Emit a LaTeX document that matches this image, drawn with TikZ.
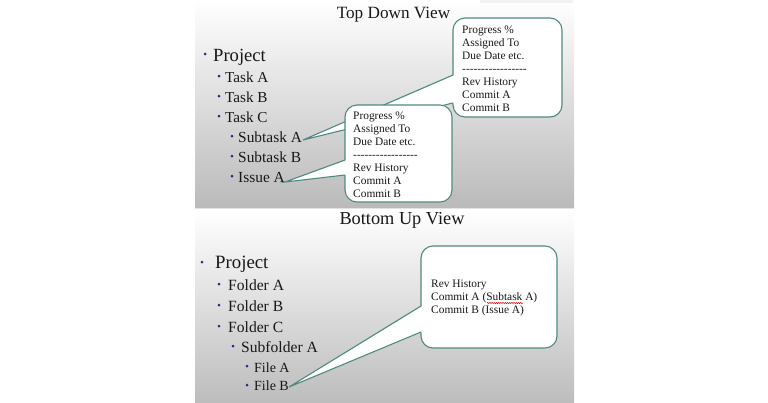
\documentclass[tikz,border=0pt]{standalone}
\usepackage{fontspec}
\setmainfont{Liberation Serif}
\usetikzlibrary{decorations.pathmorphing}
\definecolor{edgeC}{HTML}{4E8A80}
\definecolor{bulC}{HTML}{3A1E8C}
\definecolor{txtC}{HTML}{181818}
\newcommand\dashrow{-{}-{}-{}-{}-{}-{}-{}-{}-{}-{}-{}-{}-{}-{}-{}-{}-}
\newcommand\mycallout[8]{%
  \draw[callout] (#1,#2) rectangle (#3,#4);
  \fill[white] (#7,#8) -- (#1+1.3,#5) -- (#1+1.3,#6) -- cycle;
  \draw[ptr] (#1,#5) -- (#7,#8) -- (#1,#6);
}
\begin{document}
\begin{tikzpicture}[x=1pt,y=-1pt,
  item/.style={anchor=base west, text=txtC, inner sep=0pt},
  ttl/.style={anchor=base, text=txtC, inner sep=0pt},
  ctext/.style={anchor=base west, text=txtC, inner sep=0pt, font=\fontsize{11.4}{13}\selectfont},
  bul/.style={fill=bulC},
  callout/.style={draw=edgeC, fill=white, line width=1.1pt, rounded corners=12pt},
  ptr/.style={draw=edgeC, line width=1.1pt, line join=miter}]
\useasboundingbox (0,0) rectangle (768,402);
% panels
\shade[top color=white, bottom color=gray!54] (195,0) rectangle (574,208);
\fill[gray!10] (480,0) rectangle (573,2.5);
\draw[gray!22, line width=0.8pt] (195,208.8) -- (574,208.8);
\shade[top color=white, bottom color=gray!52] (195,210) rectangle (574,402);
% titles
\node[ttl, font=\fontsize{17.2}{20}\selectfont] (t1) at (393.5,18.3) {Top Down View};
\node[ttl, font=\fontsize{18.3}{20}\selectfont] (t2) at (402,224) {Bottom Up View};
% top list
\node[item, font=\fontsize{18.6}{20}\selectfont] (p1) at (213,61.5) {Project};
\node[item, font=\fontsize{15.2}{18}\selectfont] (ta) at (225,82) {Task A};
\node[item, font=\fontsize{15.2}{18}\selectfont] (tb) at (225,102) {Task B};
\node[item, font=\fontsize{15.2}{18}\selectfont] (tc) at (225,122) {Task C};
\node[item, font=\fontsize{15.4}{18}\selectfont] (sa) at (238,142) {Subtask A};
\node[item, font=\fontsize{15.4}{18}\selectfont] (sb) at (238,162) {Subtask B};
\node[item, font=\fontsize{15.4}{18}\selectfont] (ia) at (238,182) {Issue A};
\foreach \p in {(205,54),(219,76),(219,96),(219,116),(232,136),(232,156),(232,176)}
  \fill[bul] \p circle (1.5);
% bottom list
\node[item, font=\fontsize{18.8}{20}\selectfont] (p2) at (215,268) {Project};
\node[item, font=\fontsize{15.6}{18}\selectfont] (fa) at (228,290) {Folder A};
\node[item, font=\fontsize{15.6}{18}\selectfont] (fb) at (228,311) {Folder B};
\node[item, font=\fontsize{15.6}{18}\selectfont] (fc) at (228,332) {Folder C};
\node[item, font=\fontsize{15.6}{18}\selectfont] (sfa) at (241,352) {Subfolder A};
\node[item, font=\fontsize{14}{16}\selectfont] (fla) at (254,372) {File A};
\node[item, font=\fontsize{14}{16}\selectfont] (flb) at (254,390) {File B};
\foreach \p in {(202,262),(219,284),(219,305),(219,326),(233,346),(247,366),(247,385)}
  \fill[bul] \p circle (1.5);
% callout 1 (to Subtask A)
\coordinate (tip1) at (303,140);
\mycallout{453}{18}{562}{117}{75}{103}{303}{140}
\foreach \t [count=\i] in {Progress \%,Assigned To,Due Date etc.,\dashrow,Rev History,Commit A,Commit B}
  \node[ctext] (ca\i) at (462,{33+13*(\i-1)}) {\t};
% callout 2 (to Issue A)
\coordinate (tip2) at (285,182);
\mycallout{345}{105}{452}{202}{160}{175}{285}{182}
\foreach \t [count=\i] in {Progress \%,Assigned To,Due Date etc.,\dashrow,Rev History,Commit A,Commit B}
  \node[ctext] (cb\i) at (353,{119+13*(\i-1)}) {\t};
% callout 3 (to File B)
\coordinate (tip3) at (289,387);
\mycallout{421}{246}{557}{348}{306}{332}{289}{387}
\node[ctext] (cc1) at (431,287) {Rev History};
\node[ctext] (cc2) at (431,300) {Commit A (Subtask A)};
\node[ctext] (cc3) at (431,313) {Commit B (Issue A)};
\draw[red!85!black, line width=0.5pt, decorate, decoration={snake, amplitude=0.6pt, segment length=2.2pt}] (487,303) -- (523,303);
\end{tikzpicture}
\end{document}
